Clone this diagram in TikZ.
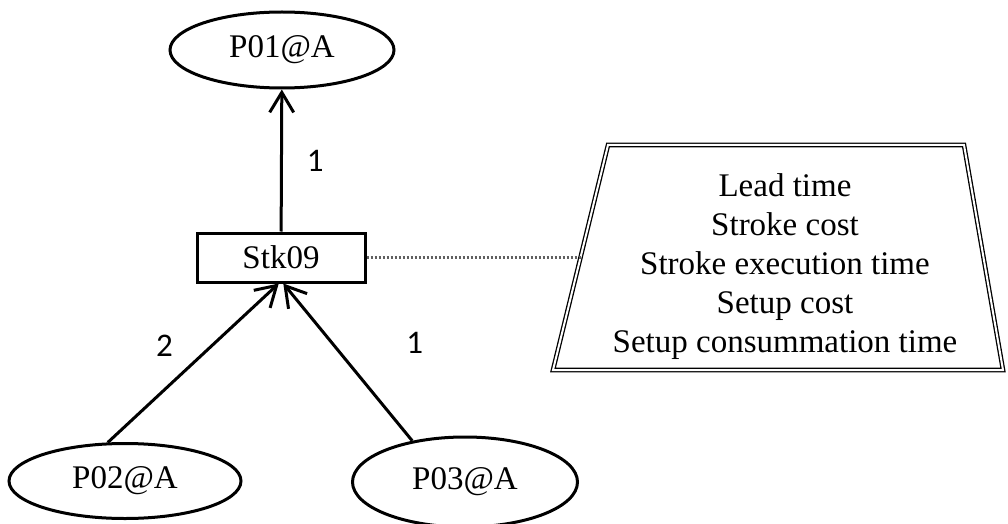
\documentclass[tikz,border=0pt]{standalone}
\usepackage{fontspec}
\setmainfont{Liberation Serif}
\newfontfamily\calibri{Carlito}
\usetikzlibrary{positioning,shapes.geometric,arrows.meta,calc}
\tikzset{%
	>={Straight Barb[length=20pt,width=24pt,line width=3pt]},
	part/.style={draw,ellipse,line width=3pt,minimum width=224pt,
		minimum height=76pt,inner sep=0pt},
	stroke/.style={draw,rectangle,line width=3pt,minimum width=168pt,
		minimum height=49pt,inner sep=0pt},
	link/.style={->,line width=3pt},
	weight/.style={inner sep=0pt,font=\calibri\fontsize{33}{40}\selectfont},
	attrlink/.style={line width=2.5pt,gray!75!black,dash pattern=on 2.5pt off 1.5pt},
	attrbox/.style={draw,double,double distance=2pt,line width=1.3pt}
}

\begin{document}
\begin{tikzpicture}[x=1pt,y=1pt,font=\fontsize{33}{39}\selectfont]
		%% canvas
		\useasboundingbox (0,0) rectangle (1008,523);
		
		%% parts and stroke
		\node[part] (p01) at (282,473) {P01@A};
		\node[stroke] (stk) at (281,265.5) {Stk09};
		\node[part,minimum width=232pt,minimum height=75pt] (p02) at (125,42) {P02@A};
		\node[part,minimum width=225pt,minimum height=90pt] (p03) at (465,41) {P03@A};
		
		%% attribute box (trapezium)
		\coordinate (tl) at (608,378);
		\coordinate (tr) at (964,378);
		\coordinate (br) at (1003,153);
		\coordinate (bl) at (553,153);
		\draw[attrbox] (tl) -- (tr) -- (br) -- (bl) -- cycle;
		\node[align=center] (attr) at (785,256) {Lead time\\Stroke cost\\
			Stroke execution time\\Setup cost\\Setup consummation time};
		\coordinate (tw) at ($(tl)!0.5!(bl)$);
		
		%% links
		\draw[attrlink] (stk) -- (tw);
		\draw[link] (stk) -- (p01) node[weight,midway,right=24pt] {1};
		\draw[link] (p02.114) -- (stk.265) node[weight,midway,above left=5pt and 19pt] {2};
		\draw[link] (p03.142) -- (stk.275) node[weight,midway,above right=7pt and 57pt] {1};
		
\end{tikzpicture}
\end{document}
